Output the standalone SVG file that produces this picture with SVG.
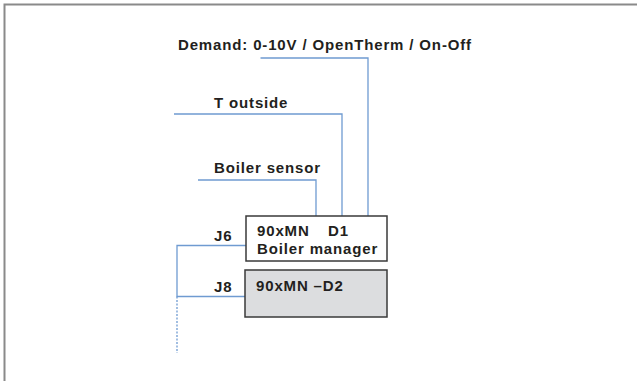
<svg xmlns="http://www.w3.org/2000/svg" width="637" height="381" viewBox="0 0 637 381">
<style>
.t{font-family:"Liberation Sans",Arial,sans-serif;font-weight:bold;font-size:15px;letter-spacing:0.85px;fill:#231f20}
.w{fill:none;stroke:#6f9bd1;stroke-width:1.3}
.box{stroke:#3a3a3a;stroke-width:1.5}
</style>
<rect x="0" y="0" width="637" height="381" fill="#fff"/>
<path d="M4.5 381V4.5H637" fill="none" stroke="#8a8a8a" stroke-width="2"/>
<g id="connectors">
<path class="w" d="M260.5 58H368V216"/>
<path class="w" d="M174 114H342V216"/>
<path class="w" d="M198 180H316V216"/>
<path class="w" d="M246 245.5H177V296.5H245"/>
<path class="w" d="M177 296.5V353" stroke-dasharray="2 1.5"/>
</g>
<g id="demand"><text class="t" x="178" y="50">Demand: 0-10V / OpenTherm / On-Off</text></g>
<g id="toutside"><text class="t" x="214" y="108">T outside</text></g>
<g id="boilersensor"><text class="t" x="214" y="173">Boiler sensor</text></g>
<g id="j6"><text class="t" x="214" y="241">J6</text></g>
<g id="j8"><text class="t" x="214" y="292">J8</text></g>
<g id="d1">
<rect class="box" x="246" y="216" width="141" height="45" fill="#fff"/>
<text class="t" x="257" y="236">90xMN<tspan x="328">D1</tspan></text>
<text class="t" x="257" y="254">Boiler manager</text>
</g>
<g id="d2">
<rect class="box" x="245" y="270" width="142" height="47" fill="#dcdddf"/>
<text class="t" x="256" y="291">90xMN –D2</text>
</g>
</svg>
